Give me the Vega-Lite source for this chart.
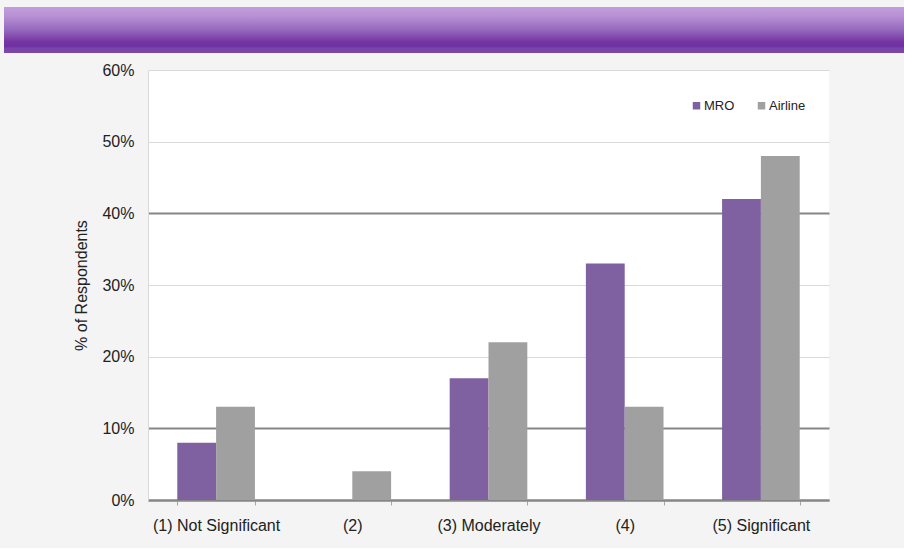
{
  "$schema": "https://vega.github.io/schema/vega-lite/v6.json",
  "padding": {"left": 4, "top": 7, "right": 0, "bottom": 15},
  "background": "#f4f4f4",
  "config": {
    "font": "Liberation Sans",
    "view": {"stroke": null}
  },
  "datasets": {
    "bars": [
      {"category": "(1) Not Significant", "series": "MRO", "value": 8},
      {"category": "(1) Not Significant", "series": "Airline", "value": 13},
      {"category": "(2)", "series": "MRO", "value": 0},
      {"category": "(2)", "series": "Airline", "value": 4},
      {"category": "(3) Moderately", "series": "MRO", "value": 17},
      {"category": "(3) Moderately", "series": "Airline", "value": 22},
      {"category": "(4)", "series": "MRO", "value": 33},
      {"category": "(4)", "series": "Airline", "value": 13},
      {"category": "(5) Significant", "series": "MRO", "value": 42},
      {"category": "(5) Significant", "series": "Airline", "value": 48}
    ],
    "banner": [{"part": "header"}],
    "spacer": [{"part": "spacer"}]
  },
  "spacing": 9,
  "vconcat": [
    {
      "width": 900,
      "height": 46,
      "data": {"name": "banner"},
      "mark": {
        "type": "rect",
        "fill": {
          "gradient": "linear",
          "x1": 0, "y1": 0, "x2": 0, "y2": 1,
          "stops": [
            {"offset": 0, "color": "#c29ddb"},
            {"offset": 0.2, "color": "#b890d4"},
            {"offset": 0.5, "color": "#9568bd"},
            {"offset": 0.75, "color": "#7536a3"},
            {"offset": 0.85, "color": "#7030a0"},
            {"offset": 0.9, "color": "#7a44a8"},
            {"offset": 1, "color": "#7b47a8"}
          ]
        }
      },
      "encoding": {
        "x": {"datum": 0, "type": "quantitative", "scale": {"domain": [0, 1], "nice": false}, "axis": null},
        "x2": {"datum": 1},
        "y": {"datum": 0, "type": "quantitative", "scale": {"domain": [0, 1], "nice": false}, "axis": null},
        "y2": {"datum": 1}
      }
    },
    {
      "spacing": 68,
      "hconcat": [
        {
          "width": 1,
          "height": 1,
          "data": {"name": "spacer"},
          "mark": {"type": "rect", "opacity": 0},
          "encoding": {}
        },
        {
          "width": 681,
          "height": 430,
          "view": {"fill": "white", "stroke": null},
          "data": {"name": "bars"},
          "mark": {"type": "bar"},
          "encoding": {
            "x": {
              "field": "category",
              "type": "nominal",
              "sort": ["(1) Not Significant", "(2)", "(3) Moderately", "(4)", "(5) Significant"],
              "scale": {"paddingInner": 0.43, "paddingOuter": 0.215},
              "axis": {
                "title": null,
                "labelAngle": 0,
                "labelFontSize": 16,
                "labelColor": "#222222",
                "labelPadding": 12,
                "domainColor": "#868686",
                "domainWidth": 2,
                "ticks": true,
                "tickBand": "extent",
                "tickColor": "#a6a6a6",
                "tickSize": 5,
                "grid": false
              }
            },
            "xOffset": {
              "field": "series",
              "sort": ["MRO", "Airline"],
              "scale": {"paddingInner": 0, "paddingOuter": 0}
            },
            "y": {
              "field": "value",
              "type": "quantitative",
              "scale": {"domain": [0, 60], "nice": false},
              "axis": {
                "values": [0, 10, 20, 30, 40, 50, 60],
                "labelExpr": "datum.value + '%'",
                "title": "% of Respondents",
                "titleFontSize": 16,
                "titleFontWeight": "normal",
                "titleColor": "#222222",
                "labelFontSize": 16,
                "labelColor": "#222222",
                "labelPadding": 14,
                "titlePadding": 12,
                "ticks": false,
                "domainColor": "#d9d9d9",
                "domainWidth": 1,
                "gridColor": {"condition": {"test": "datum.value === 0 || datum.value === 10 || datum.value === 40", "value": "#868686"}, "value": "#d9d9d9"},
                "gridWidth": {"condition": {"test": "datum.value === 0 || datum.value === 10 || datum.value === 40", "value": 2}, "value": 1}
              }
            },
            "color": {
              "field": "series",
              "type": "nominal",
              "sort": ["MRO", "Airline"],
              "scale": {"domain": ["MRO", "Airline"], "range": ["#7f60a0", "#a0a0a0"]},
              "legend": {
                "title": null,
                "orient": "none",
                "legendX": 686,
                "legendY": 92,
                "direction": "horizontal",
                "columns": 2,
                "symbolType": "square",
                "symbolSize": 56,
                "symbolStrokeWidth": 0,
                "labelFontSize": 13,
                "labelColor": "#222222",
                "labelOffset": 1,
                "columnPadding": 20,
                "padding": 0
              }
            }
          }
        }
      ]
    }
  ]
}
